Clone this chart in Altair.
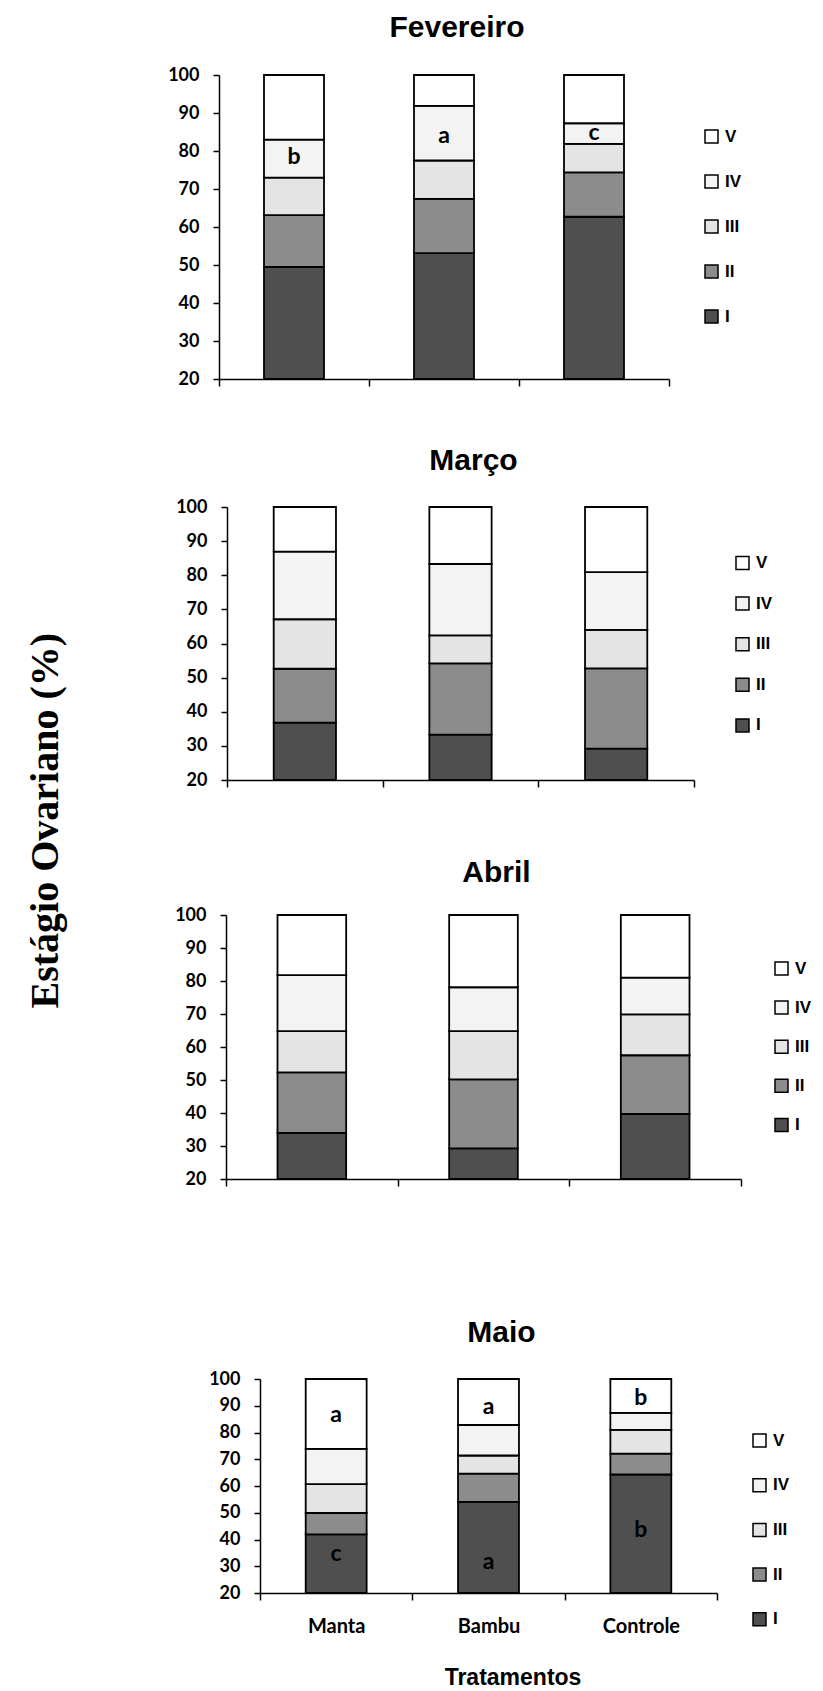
import altair as alt
import pandas as pd

months = ["Fevereiro", "Março", "Abril", "Maio"]
treatments = ["Manta", "Bambu", "Controle"]
stages = ["I", "II", "III", "IV", "V"]
legend_order = ["V", "IV", "III", "II", "I"]
legend_fills = ["#ffffff", "#f3f3f3", "#e4e4e4", "#8c8c8c", "#4f4f4f"]

# percentage of females in each ovarian stage (I..V), per treatment
fev_manta = [49.5, 13.6, 9.9, 10.0, 17.0]
fev_bambu = [53.1, 14.3, 10.1, 14.4, 8.1]
fev_controle = [62.7, 11.7, 7.5, 5.4, 12.7]

mar_manta = [36.8, 15.8, 14.5, 19.8, 13.1]
mar_bambu = [33.3, 20.9, 8.2, 20.9, 16.7]
mar_controle = [29.2, 23.5, 11.3, 16.9, 19.1]

abr_manta = [34.0, 18.3, 12.5, 17.0, 18.2]
abr_bambu = [29.3, 20.9, 14.6, 13.3, 21.9]
abr_controle = [39.7, 17.8, 12.4, 11.1, 19.0]

mai_manta = [41.9, 8.0, 10.8, 13.2, 26.1]
mai_bambu = [54.1, 10.5, 6.8, 11.4, 17.2]
mai_controle = [64.3, 7.8, 8.9, 6.3, 12.7]

# significance letters (per treatment) and their height in %
fev_letters = ["b", "a", "c"]
fev_letter_y = [78.5, 84.0, 84.8]
mai_top_letters = ["a", "a", "b"]
mai_top_y = [86.5, 89.5, 93.0]
mai_bottom_letters = ["c", "a", "b"]
mai_bottom_y = [34.5, 31.5, 43.5]

y_ticks = [20, 30, 40, 50, 60, 70, 80, 90, 100]


def month_frame(series):
    rows = []
    for t, vals in zip(treatments, series):
        for i, (s, v) in enumerate(zip(stages, vals)):
            rows.append({"treatment": t, "stage": s, "idx": i, "value": v})
    return pd.DataFrame(rows)


def letters_frame(letters, ys):
    return pd.DataFrame({"treatment": treatments, "letter": letters, "ly": ys})


def spacer(w):
    return alt.Chart(pd.DataFrame({"s": [0]})).mark_rect(
        fill="white", strokeWidth=0
    ).encode(
        x=alt.value(0), x2=alt.value(w), y=alt.value(0), y2=alt.value(2)
    ).properties(width=w, height=2)


def panel(month, series, w, h, leg_x, leg_y, row_pad, title_offset,
          letter_sets=(), last=False):
    df = month_frame(series)
    if last:
        xaxis = alt.Axis(tickBand="extent", tickSize=7, tickWidth=1.5,
                         tickColor="black", domainColor="black", domainWidth=1.5,
                         labelFont="Lato", labelFontWeight="bold", labelFontSize=20,
                         labelColor="black", labelPadding=16, labelAngle=0,
                         title="Tratamentos", titleFont="Liberation Sans",
                         titleFontWeight="bold", titleFontSize=23, titleColor="black",
                         titlePadding=30, titleX=w / 2 + 24)
    else:
        xaxis = alt.Axis(tickBand="extent", tickSize=7, tickWidth=1.5,
                         tickColor="black", domainColor="black", domainWidth=1.5,
                         labels=False, title=None)
    yaxis = alt.Axis(values=y_ticks, tickSize=6, tickWidth=1.5, tickColor="black",
                     domainColor="black", domainWidth=1.5, grid=False,
                     labelFont="Lato", labelFontWeight="bold", labelFontSize=18,
                     labelColor="black", labelPadding=14, labelOverlap=False,
                     minExtent=55, title=None)
    xscale = alt.Scale(paddingInner=0, paddingOuter=0)
    yscale = alt.Scale(domain=[20, 100], clamp=True, nice=False, zero=False)
    bars = alt.Chart(df).mark_bar(
        stroke="black", strokeWidth=1.8, width=alt.RelativeBandSize(0.4)
    ).encode(
        x=alt.X("treatment:N", sort=treatments, scale=xscale, axis=xaxis),
        y=alt.Y("value:Q", stack="zero", scale=yscale, axis=yaxis),
        fill=alt.Fill("stage:N", scale=alt.Scale(domain=legend_order, range=legend_fills),
                      legend=alt.Legend(orient="none", legendX=leg_x, legendY=leg_y,
                                        direction="vertical", title=None,
                                        symbolType="square", symbolSize=169,
                                        symbolStrokeColor="black", symbolStrokeWidth=1.5,
                                        labelFont="Liberation Sans", labelFontWeight="bold",
                                        labelFontSize=17, labelColor="black",
                                        labelOffset=5, rowPadding=row_pad, padding=0)),
        order=alt.Order("idx:Q", sort="ascending"),
    )
    layers = [bars]
    for letters, ys in letter_sets:
        txt = alt.Chart(letters_frame(letters, ys)).mark_text(
            font="Lato", fontWeight="bold", fontSize=23, baseline="middle", color="black"
        ).encode(
            x=alt.X("treatment:N", sort=treatments, scale=xscale, axis=xaxis),
            y=alt.Y("ly:Q", scale=yscale, axis=yaxis),
            text="letter:N",
        )
        layers.append(txt)
    return alt.layer(*layers).properties(
        width=w, height=h,
        title=alt.TitleParams(month, font="Liberation Sans", fontSize=30,
                              fontWeight="bold", anchor="middle", dx=13,
                              offset=title_offset, color="black"),
    )


def indep(c):
    return c.resolve_scale(fill="independent", x="independent", y="independent") \
            .resolve_legend(fill="independent")


p1 = panel("Fevereiro", [fev_manta, fev_bambu, fev_controle], 450, 304,
           484, 53, 26, 23.5, letter_sets=[(fev_letters, fev_letter_y)])
p2 = panel("Março", [mar_manta, mar_bambu, mar_controle], 467, 273,
           507, 47.5, 21.6, 22)
p3 = panel("Abril", [abr_manta, abr_bambu, abr_controle], 515, 264,
           547, 45, 20.1, 18)
p4 = panel("Maio", [mai_manta, mai_bambu, mai_controle], 457, 214,
           491, 53, 25.7, 22,
           letter_sets=[(mai_top_letters, mai_top_y), (mai_bottom_letters, mai_bottom_y)],
           last=True)

r1 = indep(alt.hconcat(spacer(1), p1, spacing=0))
r2 = indep(alt.hconcat(spacer(9), p2, spacing=0))
r3 = indep(alt.hconcat(spacer(8), p3, spacing=0))
r4 = indep(alt.hconcat(spacer(42), p4, spacing=0))

inner3 = indep(alt.vconcat(r3, r4, spacing=130))
inner2 = indep(alt.vconcat(r2, inner3, spacing=69))
chart = indep(alt.vconcat(r1, inner2, spacing=58)).properties(
    title=alt.TitleParams("Estágio Ovariano (%)", orient="left", anchor="middle",
                          font="Liberation Serif", fontSize=40, fontWeight="bold",
                          offset=97, dx=30, color="black"),
    padding={"left": 17, "top": 4, "right": 0, "bottom": 0},
    background="white",
).configure_view(stroke=None)

chart.save("out.html", embed_options={"renderer": "svg", "actions": False})
